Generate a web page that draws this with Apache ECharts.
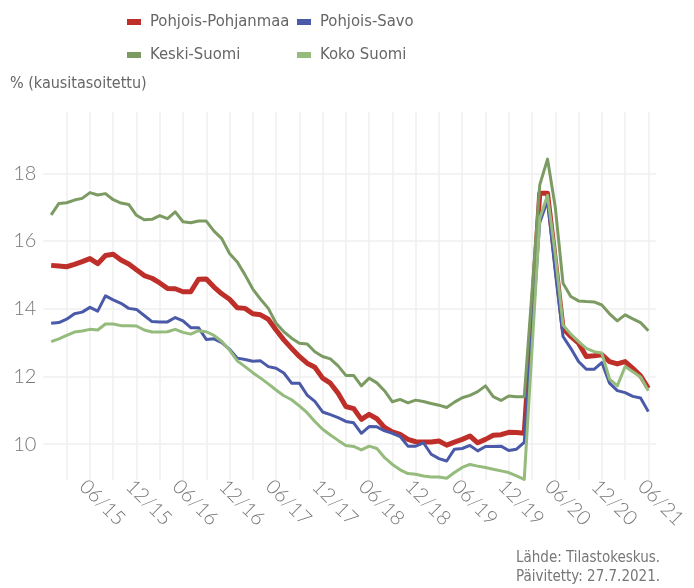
<!DOCTYPE html>
<html>
<head>
<meta charset="utf-8">
<script src="https://cdn.jsdelivr.net/npm/echarts@6/dist/echarts.min.js"></script>
<style>
html, body { margin: 0; padding: 0; background: #fff; }
#chart { width: 694px; height: 588px; }
</style>
</head>
<body>
<div id="chart"></div>
<script>
// Kuukaudet 12/2014 - 07/2021 (reunoilla tyhjät kuukaudet)
const months = [];
for (let k = 0; k < 80; k++) {
    const m = (11 + k) % 12 + 1;
    const y = 14 + Math.floor((11 + k) / 12);
    months.push((m < 10 ? '0' + m : '' + m) + '/' + y);
}

// Työttömyysaste, % (kausitasoitettu), 1/2015 - 6/2021
const pohjoisPohjanmaa = [
    15.28, 15.26, 15.24, 15.31, 15.39, 15.48, 15.33, 15.57, 15.61, 15.44,
    15.32, 15.15, 14.98, 14.90, 14.76, 14.60, 14.59, 14.50, 14.50, 14.87,
    14.88, 14.64, 14.44, 14.28, 14.03, 14.01, 13.85, 13.82, 13.69, 13.37,
    13.08, 12.83, 12.59, 12.39, 12.27, 11.95, 11.80, 11.50, 11.11, 11.05,
    10.73, 10.88, 10.75, 10.49, 10.36, 10.29, 10.14, 10.07, 10.06, 10.06,
    10.09, 9.97, 10.06, 10.14, 10.24, 10.04, 10.14, 10.26, 10.28, 10.35,
    10.34, 10.32, 13.87, 17.41, 17.41, 15.45, 13.42, 13.18, 12.98, 12.59,
    12.61, 12.64, 12.44, 12.37, 12.44, 12.24, 12.02, 11.65
];
const pohjoisSavo = [
    13.57, 13.59, 13.69, 13.85, 13.90, 14.04, 13.93, 14.38, 14.26, 14.16,
    14.01, 13.98, 13.80, 13.62, 13.61, 13.61, 13.74, 13.64, 13.44, 13.44,
    13.09, 13.11, 13.00, 12.80, 12.54, 12.50, 12.45, 12.46, 12.29, 12.24,
    12.10, 11.80, 11.80, 11.45, 11.26, 10.95, 10.87, 10.78, 10.67, 10.63,
    10.32, 10.52, 10.51, 10.39, 10.32, 10.22, 9.94, 9.94, 10.04, 9.70,
    9.57, 9.50, 9.85, 9.87, 9.96, 9.80, 9.93, 9.93, 9.94, 9.81,
    9.85, 10.05, 13.30, 16.55, 17.20, 15.10, 13.18, 12.83, 12.44, 12.21,
    12.21, 12.41, 11.80, 11.58, 11.52, 11.41, 11.36, 10.96
];
const keskiSuomi = [
    16.77, 17.11, 17.13, 17.21, 17.26, 17.43, 17.36, 17.40, 17.22, 17.12,
    17.08, 16.76, 16.63, 16.64, 16.75, 16.66, 16.86, 16.57, 16.54, 16.59,
    16.59, 16.29, 16.07, 15.63, 15.38, 15.00, 14.58, 14.28, 14.01, 13.57,
    13.32, 13.13, 12.98, 12.96, 12.73, 12.59, 12.52, 12.31, 12.03, 12.03,
    11.72, 11.95, 11.81, 11.57, 11.25, 11.32, 11.22, 11.30, 11.26, 11.20,
    11.15, 11.08, 11.24, 11.37, 11.44, 11.55, 11.72, 11.40, 11.29, 11.42,
    11.40, 11.40, 14.50, 17.66, 18.42, 17.00, 14.75, 14.36, 14.23, 14.21,
    14.20, 14.11, 13.85, 13.64, 13.82, 13.70, 13.59, 13.35
];
const kokoSuomi = [
    13.03, 13.11, 13.21, 13.31, 13.34, 13.39, 13.37, 13.55, 13.55, 13.50,
    13.50, 13.49, 13.37, 13.31, 13.31, 13.32, 13.39, 13.30, 13.25, 13.35,
    13.32, 13.21, 13.03, 12.78, 12.46, 12.29, 12.11, 11.95, 11.78, 11.60,
    11.43, 11.31, 11.13, 10.93, 10.67, 10.44, 10.27, 10.11, 9.96, 9.93,
    9.83, 9.94, 9.87, 9.60, 9.40, 9.24, 9.13, 9.11, 9.06, 9.03,
    9.03, 8.99, 9.16, 9.31, 9.40, 9.35, 9.31, 9.26, 9.21, 9.16,
    9.06, 8.96, 12.80, 16.67, 17.35, 15.60, 13.52, 13.25, 13.03, 12.83,
    12.73, 12.69, 11.92, 11.72, 12.29, 12.14, 11.98, 11.58
];

const names = ['Pohjois-Pohjanmaa', 'Pohjois-Savo', 'Keski-Suomi', 'Koko Suomi'];
const values = [pohjoisPohjanmaa, pohjoisSavo, keskiSuomi, kokoSuomi];
const lineColors = ['#bf2f2a', '#4a5aa8', '#7b9b63', '#95bb7d'];
const lineWidths = [5, 3, 3, 3];

const narrow = "'Liberation Sans Narrow', 'DejaVu Sans Condensed', 'Roboto', sans-serif";
const tickFont = "Lato, 'Open Sans', sans-serif";

// tyhjät reunakuukaudet
const pad = arr => [null].concat(arr, [null]);

// selite 2 x 2 ruudukkona
const legendPos = [[127, 12], [297, 12], [127, 45], [297, 45]];
const legends = names.map((n, k) => ({
    left: legendPos[k][0], top: legendPos[k][1], padding: 0,
    icon: 'rect', itemWidth: 14, itemHeight: 6,
    textStyle: { fontFamily: narrow, fontSize: 16.5, color: '#666', lineHeight: 20, padding: [0, 0, 0, 4] },
    data: [n]
}));

const chart = echarts.init(document.getElementById('chart'));
chart.setOption({
    animation: false,
    backgroundColor: '#fff',
    title: {
        text: '% (kausitasoitettu)',
        left: 10, top: 76, padding: 0,
        textStyle: { fontFamily: narrow, fontSize: 16, fontWeight: 'normal', color: '#666' }
    },
    legend: legends,
    grid: { left: 43.4, right: 694 - 656.1, top: 111.7, bottom: 588 - 480, outerBoundsMode: 'none' },
    xAxis: {
        type: 'category',
        data: months,
        boundaryGap: false,
        axisLine: { show: false },
        axisTick: { show: false },
        axisLabel: {
            interval: (i) => i > 0 && i % 6 === 0,
            rotate: -45, margin: -4, verticalAlign: 'top',
            fontFamily: tickFont, fontWeight: 300, fontSize: 20, color: '#777'
        },
        splitLine: {
            show: true,
            interval: (i) => i > 0 && i < 79 && i % 3 === 0,
            lineStyle: { color: '#efefef', width: 1.5 }
        }
    },
    yAxis: {
        type: 'value',
        min: 8.94, max: 19.82,
        axisLine: { show: false },
        axisTick: { show: false },
        axisLabel: {
            showMinLabel: false, showMaxLabel: false, margin: 7,
            fontFamily: tickFont, fontWeight: 300, fontSize: 20, color: '#777'
        },
        splitLine: {
            show: true, showMinLine: false, showMaxLine: false,
            lineStyle: { color: '#efefef', width: 1.5 }
        }
    },
    graphic: [{
        type: 'text',
        right: 34, top: 549,
        style: {
            text: 'Lähde: Tilastokeskus.\nPäivitetty: 27.7.2021.',
            textAlign: 'right',
            font: "15px 'Liberation Sans Narrow', 'DejaVu Sans Condensed', sans-serif",
            lineHeight: 19,
            fill: '#777'
        }
    }],
    series: names.map((n, k) => ({
        name: n,
        type: 'line',
        data: pad(values[k]),
        showSymbol: false,
        symbol: 'none',
        color: lineColors[k],
        lineStyle: { width: lineWidths[k], color: lineColors[k], join: 'round' },
        z: 2 + k
    }))
});
</script>
</body>
</html>
